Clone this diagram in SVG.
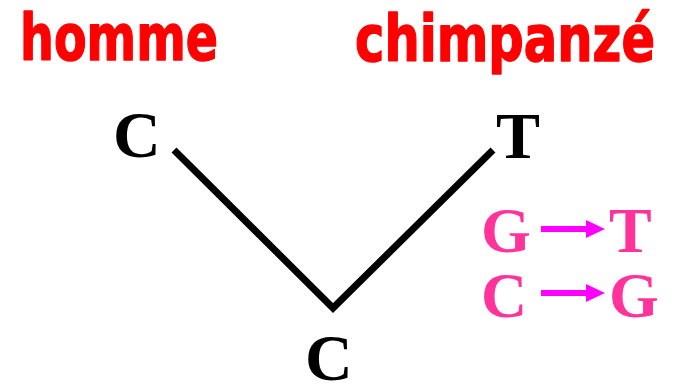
<svg xmlns="http://www.w3.org/2000/svg" width="675" height="384" viewBox="0 0 675 384">
<defs>
<style>
.sp{font-family:"Comic Sans MS","DejaVu Sans",sans-serif;font-weight:bold;font-size:64px;fill:#ff0000;stroke:#ff0000;stroke-width:1.5;stroke-linejoin:round}
.nt{font-family:"Liberation Serif","Times New Roman",serif;font-weight:bold;font-size:66px;fill:#000}
.mu{font-family:"Liberation Serif","Times New Roman",serif;font-weight:bold;font-size:64px;fill:#ff3399}
.edge{stroke:#000;stroke-width:7;fill:none}
.arr{stroke:#ff00ff;stroke-width:6;fill:none}
.ah{fill:#ff00ff}
</style>
</defs>
<rect width="675" height="384" fill="#fff"/>
<g id="homme"><text class="sp" x="20" y="60" textLength="198" lengthAdjust="spacingAndGlyphs">homme</text></g>
<g id="chimpanze"><text class="sp" x="355" y="61" textLength="300" lengthAdjust="spacingAndGlyphs">chimpanzé</text></g>
<g id="node-homme"><text class="nt" x="113" y="157">C</text></g>
<g id="node-chimp"><text class="nt" x="496" y="158">T</text></g>
<g id="node-root"><text class="nt" x="305" y="380">C</text></g>
<g id="connectors">
<polyline class="edge" points="174,150 333,308 493,150"/>
</g>
<g id="mutations">
<text class="mu" x="481" y="252">G</text>
<line class="arr" x1="541" y1="229" x2="588" y2="229"/>
<polygon class="ah" points="586,220 605,229 586,238"/>
<text class="mu" x="609" y="252">T</text>
<text class="mu" x="481" y="317">C</text>
<line class="arr" x1="541" y1="293" x2="588" y2="293"/>
<polygon class="ah" points="586,284 605,293 586,302"/>
<text class="mu" x="609" y="317">G</text>
</g>
</svg>
